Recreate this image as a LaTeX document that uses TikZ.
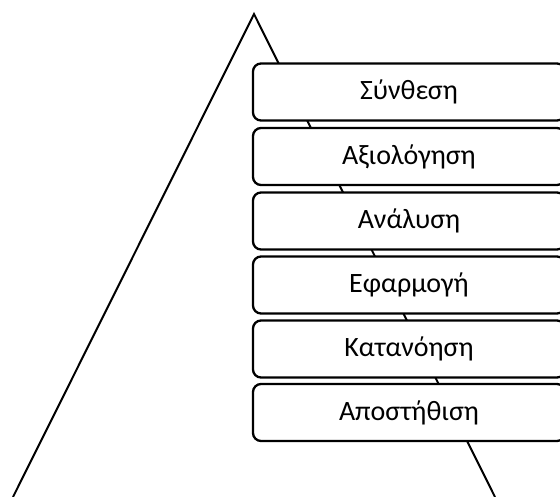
\documentclass[tikz,border=0pt]{standalone}
\usepackage{fontspec}
\setmainfont{Carlito}
\begin{document}
\begin{tikzpicture}[x=1pt, y=-1pt, every node/.style={font=\fontsize{28}{31}\selectfont},
  level/.style={draw=black, fill=white, line width=2.3pt, rounded corners=8pt, minimum width=312pt, minimum height=57pt, inner sep=0pt}]
\useasboundingbox (0,0) rectangle (560,496);
% pyramid sides
\coordinate (apex) at (254,14); \coordinate (baseL) at (13,497); \coordinate (baseR) at (495,497);
\draw[line width=2pt, line join=miter] (baseL) -- (apex) -- (baseR);
% levels, top to bottom
\foreach \i/\y/\txt in {1/92/Σύνθεση,2/156.5/Αξιολόγηση,3/221/Ανάλυση,4/285/Εφαρμογή,5/349/Κατανόηση,6/412.5/Αποστήθιση} {
  \node[level] (lvl\i) at (409,\y) {\txt};
}
\end{tikzpicture}
\end{document}
